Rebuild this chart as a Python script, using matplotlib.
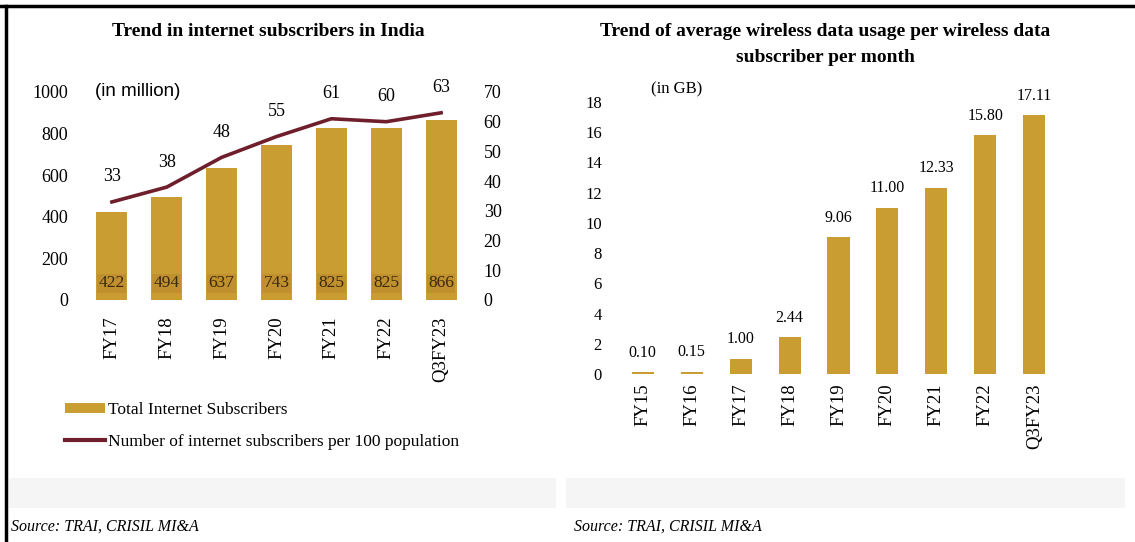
import matplotlib.pyplot as plt
from matplotlib.lines import Line2D
from matplotlib.patches import Patch, Rectangle

# data - left chart
years_Left = ['FY17', 'FY18', 'FY19', 'FY20', 'FY21', 'FY22', 'Q3FY23']
total_Subscribers = [422, 494, 637, 743, 825, 825, 866]          # in million
subscribers_Per_100 = [33, 38, 48, 55, 61, 60, 63]

# data - right chart
years_Right = ['FY15', 'FY16', 'FY17', 'FY18', 'FY19', 'FY20', 'FY21', 'FY22', 'Q3FY23']
data_Usage_GB = [0.10, 0.15, 1.00, 2.44, 9.06, 11.00, 12.33, 15.80, 17.11]

bar_Color = '#CA9D32'
line_Color = '#6E1F2B'
serif = 'Liberation Serif'

plt.rcParams['font.family'] = serif

W, H = 1135, 542
fig = plt.figure(figsize=(W / 100, H / 100), dpi=100)

def px_axes(x0, x1, y_top, y_bot):
	return fig.add_axes([x0 / W, 1 - y_bot / H, (x1 - x0) / W, (y_bot - y_top) / H])

# faint grey bands like the scanned report background
for x0, x1 in [(9, 556), (566, 1125)]:
	fig.add_artist(Rectangle((x0 / W, 1 - 508 / H), (x1 - x0) / W, 30 / H,
		transform=fig.transFigure, facecolor='#f5f5f5', edgecolor='none', zorder=0))

# frame lines (top and left)
fig.add_artist(Line2D([0, 1], [1 - 6 / H, 1 - 6 / H], transform=fig.transFigure, color='black', lw=2.5))
fig.add_artist(Line2D([6 / W, 6 / W], [0, 1 - 6 / H], transform=fig.transFigure, color='black', lw=2.5))

# ---------------- left chart ----------------
ax1 = px_axes(79, 474, 92, 300)
x_Left = range(len(years_Left))
ax1.bar(x_Left, total_Subscribers, width=0.565, color=bar_Color, zorder=2)
ax1.set_ylim(0, 1000)
ax1.set_xlim(-0.6, 6.6)
ax1.set_yticks(range(0, 1001, 200))
ax1.set_xticks(list(x_Left))
ax1.set_xticklabels(years_Left, rotation=90, fontsize=13.5, va='top')
ax1.tick_params(axis='y', length=0, pad=8, labelsize=13)
ax1.tick_params(axis='x', length=0, pad=12)
for s in ax1.spines.values():
	s.set_visible(False)

for i, v in enumerate(total_Subscribers):
	ax1.text(i, 80, str(v), ha='center', va='center', fontsize=12.5, color='#3b2a0c',
		bbox=dict(facecolor='#C08F2E', edgecolor='none', pad=1.0), zorder=3)

ax2 = ax1.twinx()
ax2.plot(list(x_Left), subscribers_Per_100, color=line_Color, lw=2.6, zorder=4)
ax2.set_ylim(0, 70)
ax2.set_yticks(range(0, 71, 10))
ax2.tick_params(axis='y', length=0, pad=7, labelsize=13)
for s in ax2.spines.values():
	s.set_visible(False)
for i, v in enumerate(subscribers_Per_100):
	ax2.annotate(str(v), (i, v), xytext=(0, 18), textcoords='offset points',
		ha='center', va='center', fontsize=13)

fig.text(95 / W, 1 - 92 / H, '(in million)', family='Liberation Sans', fontsize=13.5, va='center')
fig.text(268 / W, 1 - 32 / H, 'Trend in internet subscribers in India', fontsize=14,
	fontweight='bold', ha='center', va='center')

handles = [Patch(facecolor=bar_Color, edgecolor='none'), Line2D([], [], color=line_Color, lw=3)]
ax1.legend(handles, ['Total Internet Subscribers', 'Number of internet subscribers per 100 population'],
	loc='upper left', bbox_to_anchor=(65 / W, 1 - 402 / H), bbox_transform=fig.transFigure,
	frameon=False, fontsize=12.5, handlelength=2.3, handleheight=0.5, handletextpad=0.15,
	labelspacing=0.9, borderpad=0, borderaxespad=0)

# ---------------- right chart ----------------
ax3 = px_axes(606, 1071, 102, 374)
x_Right = range(len(years_Right))
ax3.bar(x_Right, data_Usage_GB, width=0.45, color=bar_Color, zorder=2)
ax3.set_ylim(0, 18)
ax3.set_xlim(-0.75, 8.75)
ax3.set_yticks(range(0, 19, 2))
ax3.set_xticks(list(x_Right))
ax3.set_xticklabels(years_Right, rotation=90, fontsize=13.5, va='top')
ax3.tick_params(axis='y', length=0, pad=3, labelsize=12)
ax3.tick_params(axis='x', length=0, pad=7)
for s in ax3.spines.values():
	s.set_visible(False)
for i, v in enumerate(data_Usage_GB):
	ax3.annotate('%.2f' % v, (i, v), xytext=(0, 14), textcoords='offset points',
		ha='center', va='center', fontsize=11.5)

fig.text(651 / W, 1 - 89 / H, '(in GB)', fontsize=12, va='center')
fig.text(825 / W, 1 - 32 / H, 'Trend of average wireless data usage per wireless data', fontsize=14,
	fontweight='bold', ha='center', va='center')
fig.text(825 / W, 1 - 57 / H, 'subscriber per month', fontsize=14,
	fontweight='bold', ha='center', va='center')

# sources
fig.text(11 / W, 1 - 527 / H, 'Source: TRAI, CRISIL MI&A', fontsize=11.5, style='italic', va='center')
fig.text(574 / W, 1 - 527 / H, 'Source: TRAI, CRISIL MI&A', fontsize=11.5, style='italic', va='center')

fig.savefig('out.png', dpi=100)
